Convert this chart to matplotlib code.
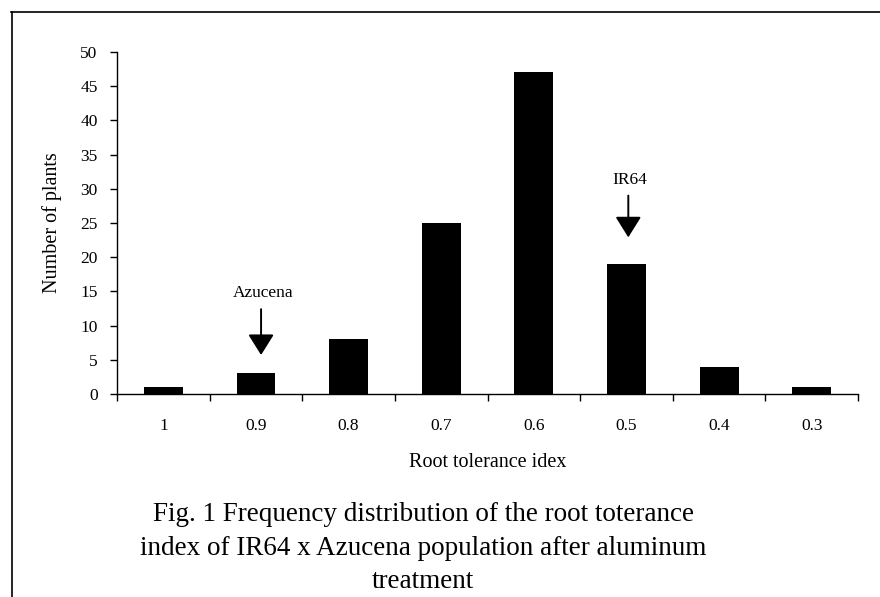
import matplotlib

matplotlib.use("Agg")

import matplotlib.pyplot as plt
from matplotlib.lines import Line2D

categories = ["1", "0.9", "0.8", "0.7", "0.6", "0.5", "0.4", "0.3"]
counts = [1, 3, 8, 25, 47, 19, 4, 1]
y_ticks = [0, 5, 10, 15, 20, 25, 30, 35, 40, 45, 50]

plt.rcParams["font.family"] = ["Liberation Serif", "DejaVu Serif"]

fig = plt.figure(figsize=(8.8, 5.97), dpi=100)
ax = fig.add_axes([0.133, 0.34, 0.842, 0.573])

xs = list(range(len(categories)))
ax.bar(xs, counts, width=0.42, color="black")

ax.set_xlim(-0.5, len(categories) - 0.5)
ax.set_ylim(0, 50)
ax.set_yticks(y_ticks)
ax.set_xticks(xs)
ax.set_xticklabels(categories)
ax.set_xticks([x - 0.5 for x in xs] + [len(categories) - 0.5], minor=True)
ax.tick_params(axis="x", which="major", length=0, pad=17, labelsize=12.5)
ax.tick_params(axis="x", which="minor", length=5, width=1, direction="out")
ax.tick_params(axis="y", length=5, width=1, direction="out", labelsize=12.5, pad=9)
for side in ("top", "right"):
    ax.spines[side].set_visible(False)
for side in ("left", "bottom"):
    ax.spines[side].set_linewidth(1)

ax.set_ylabel("Number of plants", fontsize=14.5, labelpad=13)
ax.set_xlabel("Root tolerance idex", fontsize=14.5, labelpad=14)

arrow = dict(arrowstyle="-|>,head_width=0.5,head_length=0.8", color="black",
             lw=1.4, mutation_scale=16, shrinkA=0, shrinkB=0)
ax.annotate("", xy=(1.055, 5.7), xytext=(1.055, 12.4), arrowprops=arrow)
ax.text(1.08, 14.7, "Azucena", ha="center", va="center", fontsize=12.5)
ax.annotate("", xy=(5.02, 22.9), xytext=(5.02, 29.0), arrowprops=arrow)
ax.text(5.04, 31.3, "IR64", ha="center", va="center", fontsize=12.5)

fig.text(0.481, 0.082,
         "Fig. 1 Frequency distribution of the root toterance\n"
         "index of IR64 x Azucena population after aluminum\n"
         "treatment",
         ha="center", va="center", fontsize=19.5, linespacing=1.45)

# page frame (left and top edges only visible)
fig.add_artist(Line2D([11.5 / 880, 11.5 / 880], [0, 1 - 12 / 597],
                      transform=fig.transFigure, color="black", lw=1.2))
fig.add_artist(Line2D([11 / 880, 1], [1 - 12 / 597, 1 - 12 / 597],
                      transform=fig.transFigure, color="black", lw=1.2))

fig.savefig("out.png", dpi=100)
